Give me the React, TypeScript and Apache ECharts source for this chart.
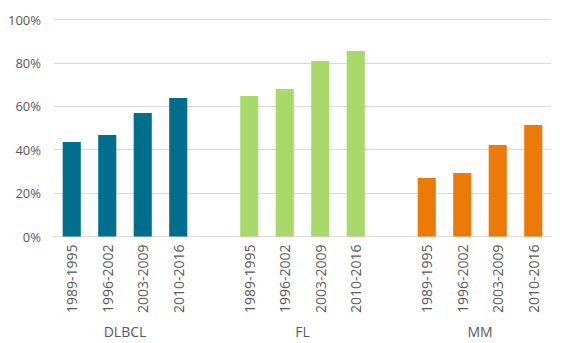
import React, { useEffect, useRef } from "react";
import * as echarts from "echarts";

const periods = ["1989-1995", "1996-2002", "2003-2009", "2010-2016"];
const groups = ["DLBCL", "FL", "MM"];
const dlbcl = [43.5, 46.8, 56.9, 63.8];
const fl = [64.7, 68.0, 80.9, 85.5];
const mm = [27.0, 29.3, 42.2, 51.4];
const colors = ["#006E8C", "#A8D96A", "#EC7A08"];
const yTicks = [0, 20, 40, 60, 80, 100];

export default function App() {
  const ref = useRef<HTMLDivElement>(null);
  useEffect(() => {
    if (!ref.current) return;
    const chart = echarts.init(ref.current, undefined, { renderer: "svg" });
    // 14 slots: 4 bars, gap, 4 bars, gap, 4 bars
    const cats: string[] = [
      ...periods, "", ...periods, "", ...periods,
    ];
    const seriesVals = [dlbcl, fl, mm];
    const series = seriesVals.map((vals, gi) => {
      const data: (number | null)[] = new Array(14).fill(null);
      vals.forEach((v, i) => {
        data[gi * 5 + i] = v;
      });
      return {
        type: "bar",
        name: groups[gi],
        stack: "all",
        data,
        barWidth: "51%",
        itemStyle: { color: colors[gi] },
        xAxisIndex: 0,
      };
    });
    // group label axis: 29 half-slot boundary points, labels at group centres
    const groupCats: string[] = new Array(29).fill("");
    groups.forEach((g, gi) => {
      groupCats[gi * 10 + 4] = g;
    });
    chart.setOption({
      animation: false,
      textStyle: { fontFamily: "Open Sans" },
      grid: { left: 54, right: 11, top: 19.5, bottom: 106.5, containLabel: false },
      xAxis: [
        {
          type: "category",
          data: cats,
          axisTick: { show: false },
          axisLine: { lineStyle: { color: "#D9D9D9", width: 1 } },
          axisLabel: {
            interval: 0,
            rotate: 90,
            margin: 8,
            fontSize: 14,
            color: "#595959",
            fontFamily: "Open Sans",
          },
        },
        {
          type: "category",
          position: "bottom",
          boundaryGap: false,
          data: groupCats,
          axisLine: { show: false },
          axisTick: { show: false },
          splitLine: { show: false },
          axisLabel: {
            interval: 0,
            margin: 88,
            fontSize: 14,
            color: "#595959",
            fontFamily: "Open Sans",
          },
        },
      ],
      yAxis: {
        type: "value",
        min: 0,
        max: 100,
        interval: 20,
        axisLine: { show: false },
        axisTick: { show: false },
        splitLine: { lineStyle: { color: "#D9D9D9", width: 1 } },
        axisLabel: {
          formatter: (v: number) => (yTicks.includes(v) ? v + "%" : ""),
          fontSize: 13,
          color: "#595959",
          margin: 13,
          fontFamily: "Open Sans",
        },
      },
      series,
    });
    return () => chart.dispose();
  }, []);
  return <div ref={ref} style={{ width: 562, height: 343, position: "absolute", left: 0, top: 0 }} />;
}
